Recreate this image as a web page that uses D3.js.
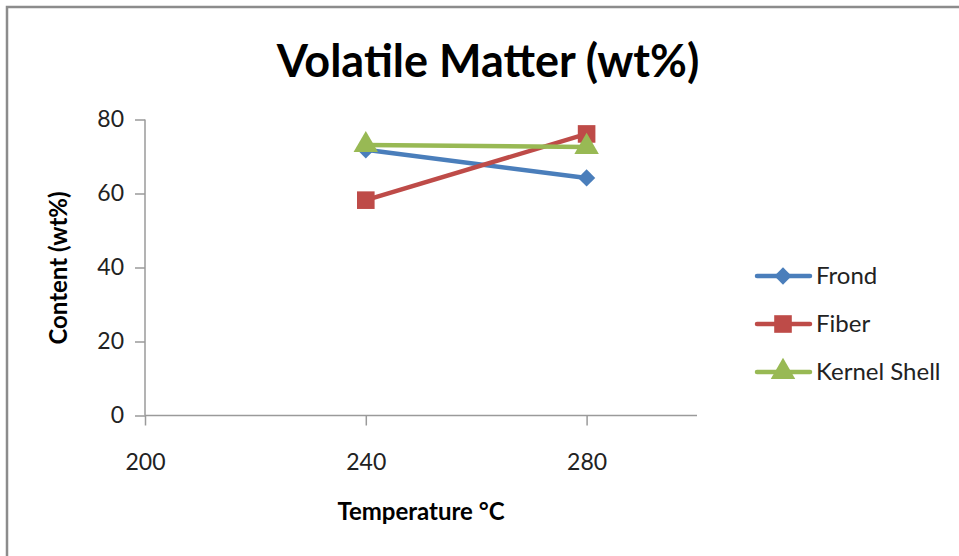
<!DOCTYPE html>
<html>
<head>
<meta charset="utf-8">
<script src="https://cdn.jsdelivr.net/npm/d3@7"></script>
<style>
  body { margin: 0; background: #fff; }
  svg { display: block; font-family: Lato, "Open Sans", sans-serif; }
</style>
</head>
<body>
<svg id="chart" width="959" height="556"></svg>
<script>
// ── Data ──────────────────────────────────────────────────
const temps = [240, 280];
const xTicks = [200, 240, 280];
const yTicks = [0, 20, 40, 60, 80];
const frond = [71.8, 64.2];
const fiber = [58.2, 76.1];
const kernelShell = [73.1, 72.6];

const series = [
  { name: 'Frond', values: frond, color: '#4A7EBB', symbol: d3.symbolDiamond2, size: 190 },
  { name: 'Fiber', values: fiber, color: '#BE4B48', symbol: d3.symbolSquare, size: 310 },
  { name: 'Kernel Shell', values: kernelShell, color: '#98B954', symbol: d3.symbolTriangle, size: 260 }
];

// ── Setup ─────────────────────────────────────────────────
const svg = d3.select('#chart');

// outer chart border (cut off on right & bottom like the original)
svg.append('rect')
  .attr('x', 7).attr('y', 7)
  .attr('width', 980).attr('height', 600)
  .attr('fill', 'none')
  .attr('stroke', '#8c8c8c')
  .attr('stroke-width', 2.5);

const x = d3.scaleLinear().domain([200, 300]).range([145, 697]);
const y = d3.scaleLinear().domain([0, 80]).range([415.5, 119.5]);

// ── Axes ──────────────────────────────────────────────────
const yAxis = svg.append('g')
  .attr('transform', `translate(${x(200)},0)`)
  .call(d3.axisLeft(y).tickValues(yTicks).tickSize(10).tickPadding(11));

const xAxis = svg.append('g')
  .attr('transform', `translate(0,${y(0)})`)
  .call(d3.axisBottom(x).tickValues(xTicks).tickSize(10).tickPadding(28));

[yAxis, xAxis].forEach(g => {
  g.select('.domain').attr('stroke', '#9a9a9a').attr('stroke-width', 1.5);
  g.selectAll('.tick line').attr('stroke', '#9a9a9a').attr('stroke-width', 1.5);
  g.selectAll('.tick text')
    .attr('fill', '#222')
    .style('font-size', '23px')
    .style('font-family', 'Lato, "Open Sans", sans-serif');
});
// trim domain paths to plain lines
xAxis.select('.domain').attr('d', `M${x(200)},0H${x(300)}`);
yAxis.select('.domain').attr('d', `M0,${y(80)}V${y(0)}`);

// ── Titles ────────────────────────────────────────────────
svg.append('text')
  .attr('x', 488).attr('y', 77)
  .attr('text-anchor', 'middle')
  .style('font-size', '45px')
  .style('font-weight', 'bold')
  .attr('fill', '#000')
  .text('Volatile Matter (wt%)');

svg.append('text')
  .attr('transform', 'translate(67,268) rotate(-90)')
  .attr('text-anchor', 'middle')
  .style('font-size', '24px')
  .style('font-weight', 'bold')
  .attr('fill', '#000')
  .text('Content (wt%)');

svg.append('text')
  .attr('x', 421).attr('y', 520)
  .attr('text-anchor', 'middle')
  .style('font-size', '24px')
  .style('font-weight', 'bold')
  .attr('fill', '#000')
  .text('Temperature °C');

// ── Lines & markers ───────────────────────────────────────
const line = d3.line().x((d, i) => x(temps[i])).y(d => y(d));

series.forEach(s => {
  svg.append('path')
    .datum(s.values)
    .attr('d', line)
    .attr('fill', 'none')
    .attr('stroke', s.color)
    .attr('stroke-width', 4.5);
});

series.forEach(s => {
  svg.selectAll(null)
    .data(s.values)
    .enter()
    .append('path')
    .attr('d', d3.symbol().type(s.symbol).size(s.size))
    .attr('transform', (d, i) => `translate(${x(temps[i])},${y(d)})`)
    .attr('fill', s.color);
});

// ── Legend ────────────────────────────────────────────────
const legend = svg.append('g');
series.forEach((s, i) => {
  const ly = 276 + i * 48;
  legend.append('line')
    .attr('x1', 757).attr('x2', 810)
    .attr('y1', ly).attr('y2', ly)
    .attr('stroke', s.color)
    .attr('stroke-width', 4.5)
    .attr('stroke-linecap', 'round');
  legend.append('path')
    .attr('d', d3.symbol().type(s.symbol).size(s.size))
    .attr('transform', `translate(783,${ly})`)
    .attr('fill', s.color);
  legend.append('text')
    .attr('x', 816).attr('y', ly)
    .attr('dy', '0.35em')
    .style('font-size', '24px')
    .attr('fill', '#222')
    .text(s.name);
});
</script>
</body>
</html>
